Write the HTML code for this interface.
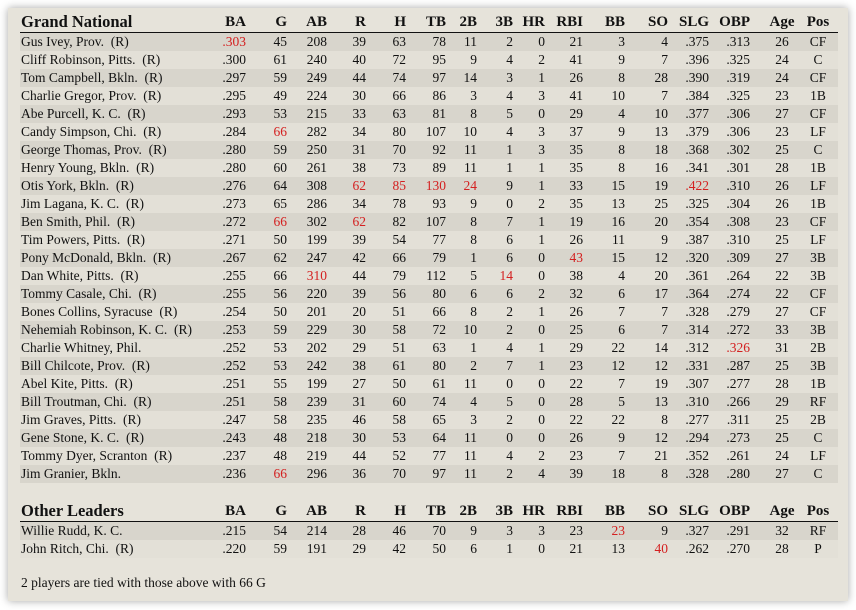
<!DOCTYPE html>
<html><head><meta charset="utf-8"><style>
body{margin:0;width:856px;height:610px;background:#fff;overflow:hidden;font-family:"Liberation Serif",serif;}
#panel{position:absolute;left:8px;top:8px;width:840px;height:593px;background:#e6e3da;box-shadow:0 0 8px rgba(0,0,0,0.35);}
.row{position:absolute;left:20px;width:818px;height:18px;font-size:13.5px;line-height:18px;color:#111;}
.hdr{position:absolute;left:20px;width:818px;height:20px;font-size:15px;font-weight:bold;line-height:20px;color:#111;border-bottom:2px solid #111;}
.hdr .t{font-size:16.5px;}
.c{position:absolute;top:0;white-space:pre;}
.r{color:#d42020;}
.note{position:absolute;left:21px;top:575px;font-size:13.5px;color:#111;}
</style></head><body>
<div id="panel"></div>
<div class="note">2 players are tied with those above with 66 G</div>
<script>
const headers=["BA","G","AB","R","H","TB","2B","3B","HR","RBI","BB","SO","SLG","OBP","Age","Pos"];
const grandRows=[
["Gus Ivey, Prov.  (R)",".303","45","208","39","63","78","11","2","0","21","3","4",".375",".313","26","CF"],
["Cliff Robinson, Pitts.  (R)",".300","61","240","40","72","95","9","4","2","41","9","7",".396",".325","24","C"],
["Tom Campbell, Bkln.  (R)",".297","59","249","44","74","97","14","3","1","26","8","28",".390",".319","24","CF"],
["Charlie Gregor, Prov.  (R)",".295","49","224","30","66","86","3","4","3","41","10","7",".384",".325","23","1B"],
["Abe Purcell, K. C.  (R)",".293","53","215","33","63","81","8","5","0","29","4","10",".377",".306","27","CF"],
["Candy Simpson, Chi.  (R)",".284","66","282","34","80","107","10","4","3","37","9","13",".379",".306","23","LF"],
["George Thomas, Prov.  (R)",".280","59","250","31","70","92","11","1","3","35","8","18",".368",".302","25","C"],
["Henry Young, Bkln.  (R)",".280","60","261","38","73","89","11","1","1","35","8","16",".341",".301","28","1B"],
["Otis York, Bkln.  (R)",".276","64","308","62","85","130","24","9","1","33","15","19",".422",".310","26","LF"],
["Jim Lagana, K. C.  (R)",".273","65","286","34","78","93","9","0","2","35","13","25",".325",".304","26","1B"],
["Ben Smith, Phil.  (R)",".272","66","302","62","82","107","8","7","1","19","16","20",".354",".308","23","CF"],
["Tim Powers, Pitts.  (R)",".271","50","199","39","54","77","8","6","1","26","11","9",".387",".310","25","LF"],
["Pony McDonald, Bkln.  (R)",".267","62","247","42","66","79","1","6","0","43","15","12",".320",".309","27","3B"],
["Dan White, Pitts.  (R)",".255","66","310","44","79","112","5","14","0","38","4","20",".361",".264","22","3B"],
["Tommy Casale, Chi.  (R)",".255","56","220","39","56","80","6","6","2","32","6","17",".364",".274","22","CF"],
["Bones Collins, Syracuse  (R)",".254","50","201","20","51","66","8","2","1","26","7","7",".328",".279","27","CF"],
["Nehemiah Robinson, K. C.  (R)",".253","59","229","30","58","72","10","2","0","25","6","7",".314",".272","33","3B"],
["Charlie Whitney, Phil.",".252","53","202","29","51","63","1","4","1","29","22","14",".312",".326","31","2B"],
["Bill Chilcote, Prov.  (R)",".252","53","242","38","61","80","2","7","1","23","12","12",".331",".287","25","3B"],
["Abel Kite, Pitts.  (R)",".251","55","199","27","50","61","11","0","0","22","7","19",".307",".277","28","1B"],
["Bill Troutman, Chi.  (R)",".251","58","239","31","60","74","4","5","0","28","5","13",".310",".266","29","RF"],
["Jim Graves, Pitts.  (R)",".247","58","235","46","58","65","3","2","0","22","22","8",".277",".311","25","2B"],
["Gene Stone, K. C.  (R)",".243","48","218","30","53","64","11","0","0","26","9","12",".294",".273","25","C"],
["Tommy Dyer, Scranton  (R)",".237","48","219","44","52","77","11","4","2","23","7","21",".352",".261","24","LF"],
["Jim Granier, Bkln.",".236","66","296","36","70","97","11","2","4","39","18","8",".328",".280","27","C"]];
const grandRed=[[0,1],[5,2],[8,4],[8,5],[8,6],[8,7],[8,13],[10,2],[10,4],[12,10],[13,3],[13,8],[17,14],[24,2]];
const otherRows=[
["Willie Rudd, K. C.",".215","54","214","28","46","70","9","3","3","23","23","9",".327",".291","32","RF"],
["John Ritch, Chi.  (R)",".220","59","191","29","42","50","6","1","0","21","13","40",".262",".270","28","P"]];
const otherRed=[[0,11],[1,12]];
// column right edges (Age/Pos centers)
const colX=[246,287,327,366,406,446,477,513,545,583,625,668,709,750,782,818];
function header(title,top,name){
 const h=document.createElement('div');h.className='hdr';h.style.top=top+'px';
 
 
 let t=document.createElement('div');t.className='c t';t.style.left='1px';t.textContent=title;h.appendChild(t);
 headers.forEach((s,i)=>{const d=document.createElement('div');d.className='c';d.textContent=s;
  
  
  if(i>=14){d.style.left=(colX[i]-20-30)+'px';d.style.width='60px';d.style.textAlign='center';}
  else{d.style.right=(838-colX[i])+'px';}
  h.appendChild(d);});
 document.body.appendChild(h);
}
function rows(data,red,top,prefix){
 data.forEach((r,ri)=>{
  const row=document.createElement('div');row.className='row';row.style.top=(top+ri*18)+'px';
  row.style.background=ri%2==0?'#d8d5cc':'#e3e0d7';
  
  
  r.forEach((v,ci)=>{const d=document.createElement('div');d.className='c';d.textContent=v;
   if(ci==0){d.style.left='1px';}
   else{const i=ci-1;if(i>=14){d.style.left=(colX[i]-20-30)+'px';d.style.width='60px';d.style.textAlign='center';}else d.style.right=(838-colX[i])+'px';}
   if(red.some(p=>p[0]==ri&&p[1]==ci))d.classList.add('r');
   
   
   row.appendChild(d);});
  document.body.appendChild(row);
 });
}
header('Grand National',12,'grand-national-header');
rows(grandRows,grandRed,33,'grand');
header('Other Leaders',501,'other-leaders-header');
rows(otherRows,otherRed,522,'other');
</script>
</body></html>
